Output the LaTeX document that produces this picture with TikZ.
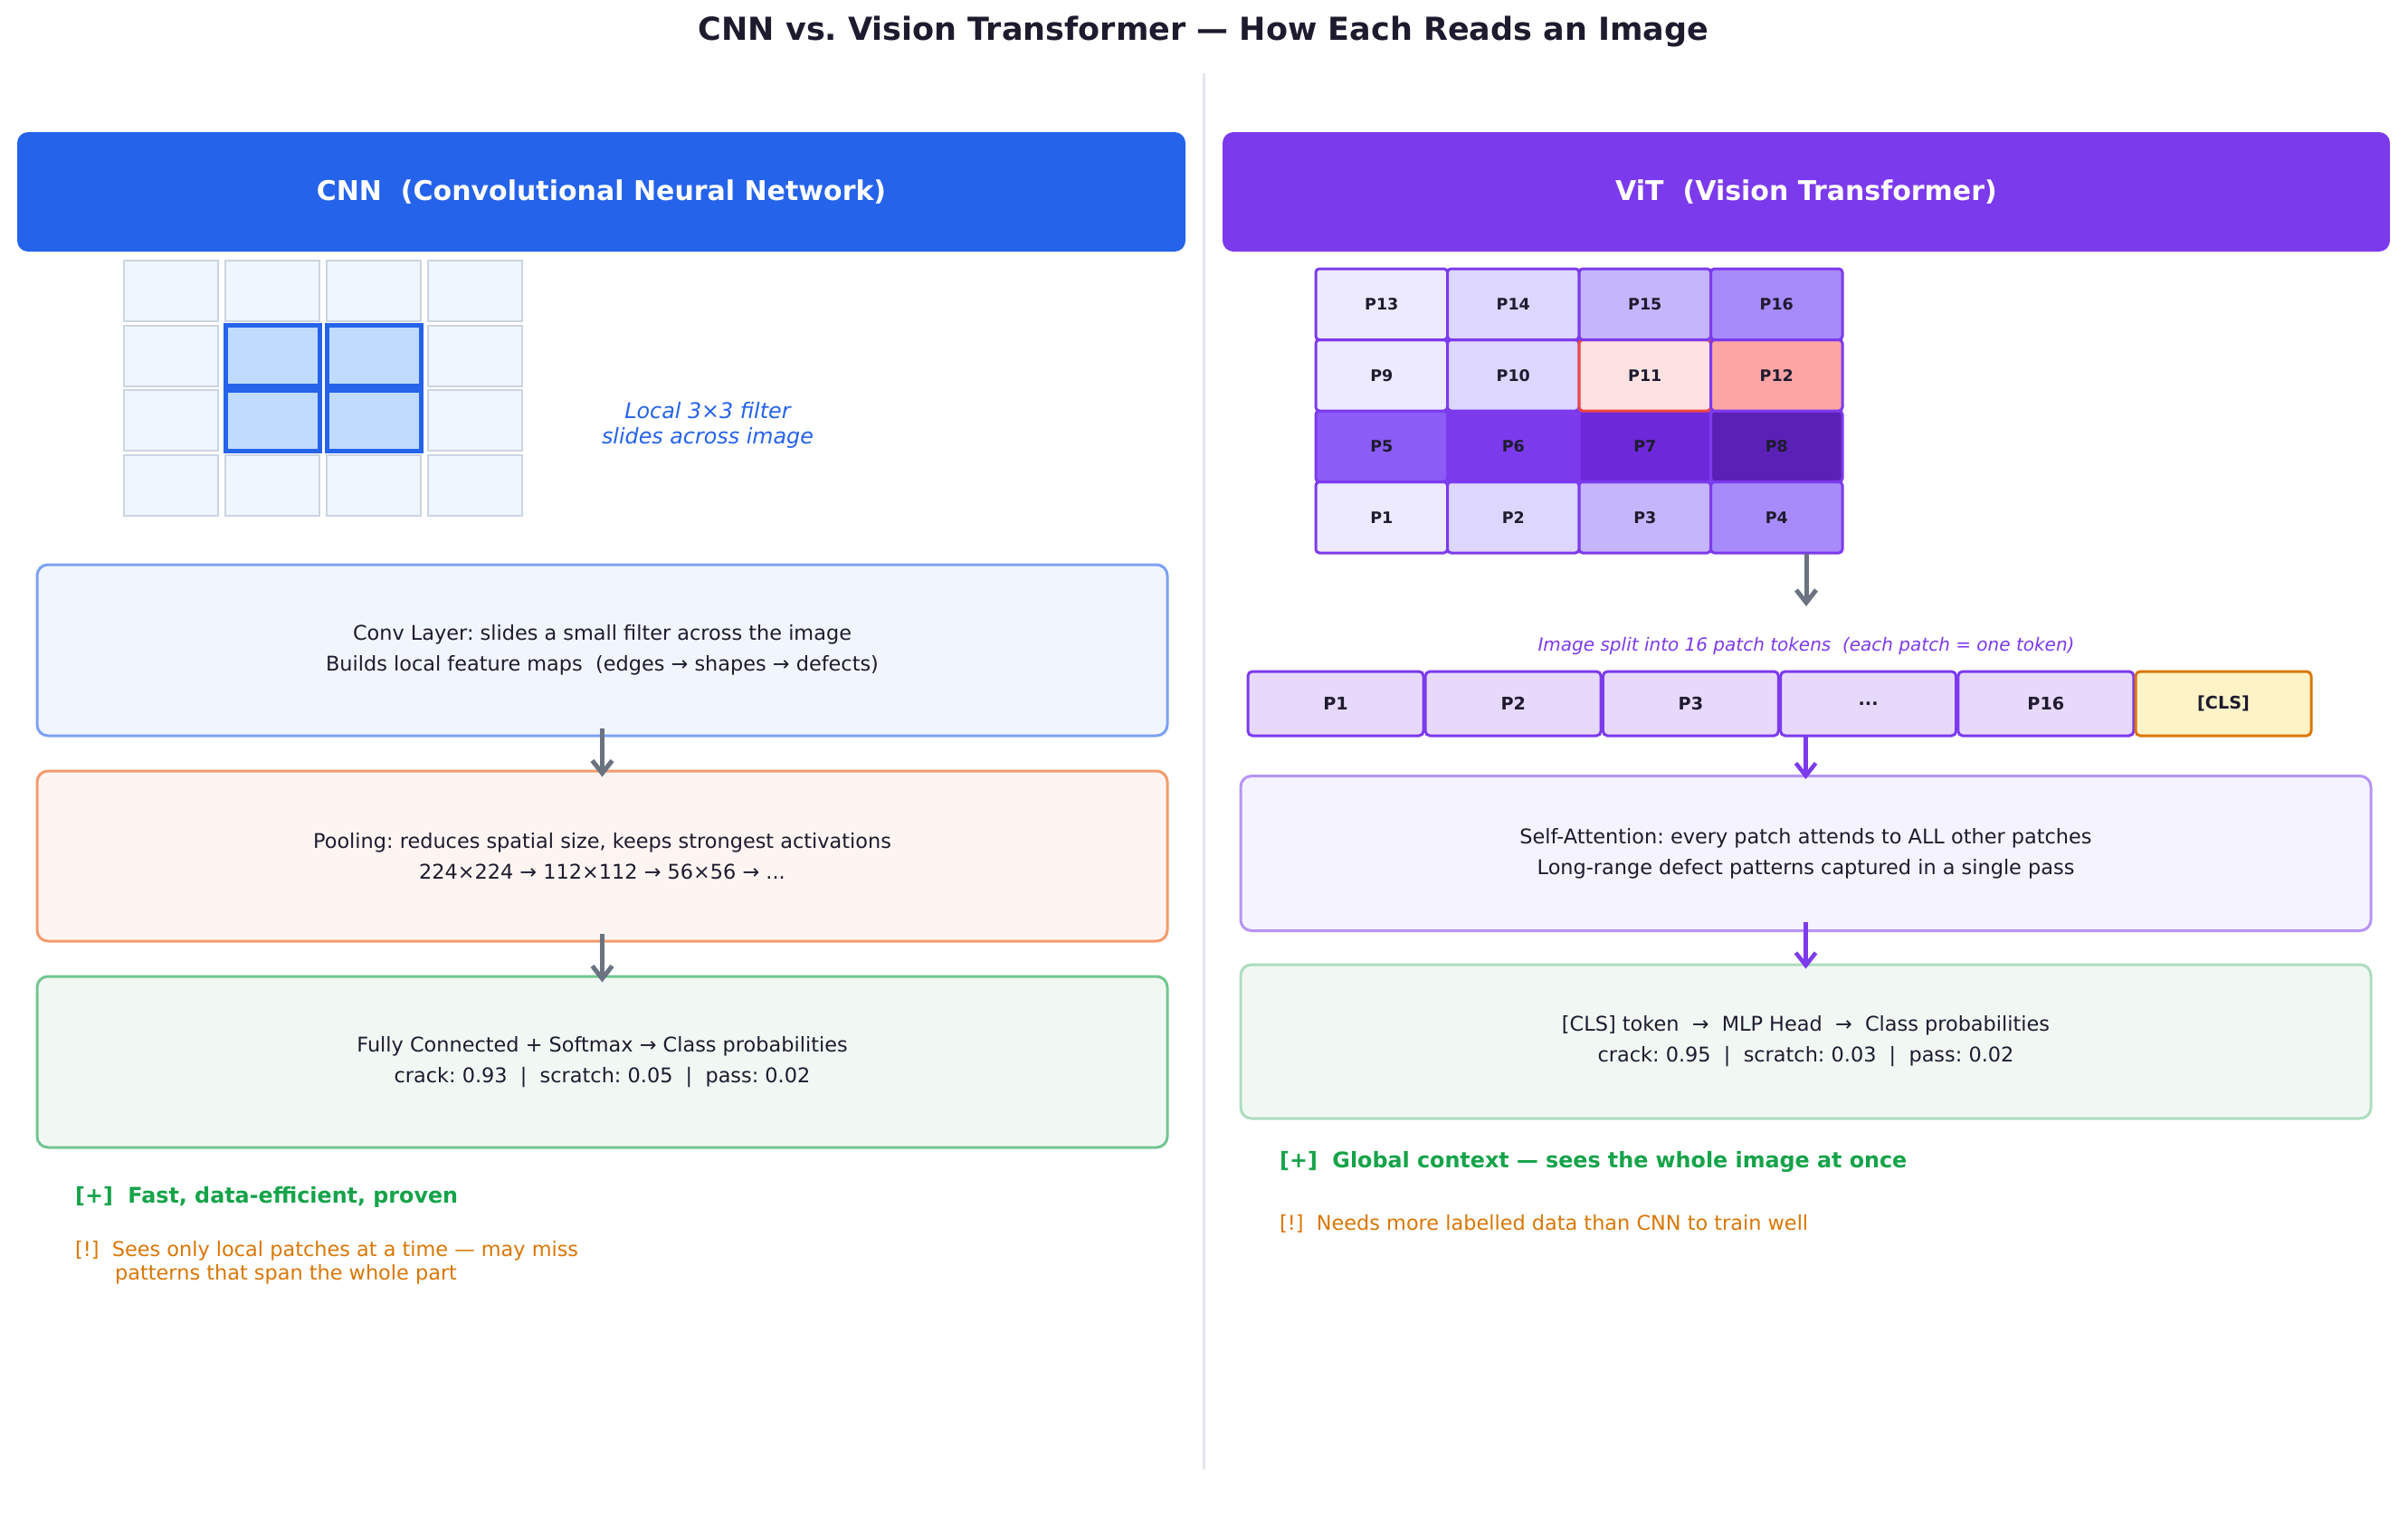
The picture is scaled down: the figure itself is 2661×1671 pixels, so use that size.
\documentclass[tikz,border=0pt]{standalone}
\usepackage{fontspec}
\setmainfont{DejaVu Sans}
\usetikzlibrary{arrows.meta}
\frenchspacing
\definecolor{ink}{HTML}{1E1B2E}
\definecolor{cnnblue}{HTML}{2563EB}
\definecolor{vitpurple}{HTML}{7C3AED}
\definecolor{cellfill}{HTML}{EFF6FF}
\definecolor{cellborder}{HTML}{CBD5E1}
\definecolor{hlfill}{HTML}{BFDBFE}
\definecolor{arrgray}{HTML}{6B7280}
\definecolor{divgray}{HTML}{E5E7EB}
\definecolor{convfill}{HTML}{F1F5FE}
\definecolor{convdraw}{HTML}{7DA1F3}
\definecolor{poolfill}{HTML}{FEF5F2}
\definecolor{pooldraw}{HTML}{F39B6D}
\definecolor{fcfill}{HTML}{F1F8F4}
\definecolor{fcdraw}{HTML}{72C691}
\definecolor{safill}{HTML}{F5F3FF}
\definecolor{sadraw}{HTML}{B794F4}
\definecolor{clsfill}{HTML}{F1F8F4}
\definecolor{clsdraw}{HTML}{ADDDBE}
\definecolor{tokfill}{HTML}{E7D9FC}
\definecolor{clstokfill}{HTML}{FEF3C7}
\definecolor{clstokdraw}{HTML}{D97706}
\definecolor{goodgreen}{HTML}{16A34A}
\definecolor{warnorange}{HTML}{D97706}
\definecolor{pa}{HTML}{EDE9FE}
\definecolor{pb}{HTML}{DDD6FE}
\definecolor{pc}{HTML}{C4B5FD}
\definecolor{pd}{HTML}{A78BFA}
\definecolor{pfive}{HTML}{8B5CF6}
\definecolor{psix}{HTML}{7C3AED}
\definecolor{pseven}{HTML}{6D28D9}
\definecolor{peight}{HTML}{5B21B6}
\definecolor{pelevenfill}{HTML}{FEE2E2}
\definecolor{pelevendraw}{HTML}{EF4444}
\definecolor{ptwelve}{HTML}{FCA5A5}
\begin{document}
\begin{tikzpicture}[x=1pt,y=-1pt,
  hdr/.style={rounded corners=12pt, minimum height=132pt, inner sep=0pt, text=white,
    font=\fontsize{30}{36}\selectfont\bfseries},
  gcell/.style={draw=cellborder, fill=cellfill, line width=2pt, minimum width=104pt, minimum height=67pt, inner sep=0pt},
  hcell/.style={gcell, draw=cnnblue, fill=hlfill, line width=5pt},
  flowbox/.style={rounded corners=12pt, line width=3pt, minimum width=1249pt, inner sep=0pt,
    align=center, text=ink, font=\fontsize{22.4}{34}\selectfont},
  patch/.style={draw=vitpurple, line width=3pt, rounded corners=4pt, minimum width=145.5pt, minimum height=78.5pt,
    inner sep=0pt, font=\fontsize{17.5}{20}\selectfont\bfseries, text=ink},
  token/.style={draw=vitpurple, fill=tokfill, line width=3pt, rounded corners=5pt, minimum width=194pt,
    minimum height=71pt, inner sep=0pt, font=\fontsize{19.2}{22}\selectfont\bfseries, text=ink},
  garrow/.style={draw=arrgray, line width=5pt, -{Straight Barb[length=14pt,width=22pt]}},
  parrow/.style={draw=vitpurple, line width=4.5pt, -{Straight Barb[length=14pt,width=22pt]}},
  note/.style={anchor=west, inner sep=0pt, align=left}
]
\useasboundingbox (0,0) rectangle (2661,1671);
\fill[white] (0,0) rectangle (2661,1671);

% title
\node[text=ink, font=\fontsize{35}{42}\selectfont\bfseries] (title) at (1330,35)
  {CNN vs. Vision Transformer — How Each Reads an Image};

% divider
\coordinate (divtop) at (1330,81);
\coordinate (divbot) at (1330,1624);
\draw[divgray, line width=3pt] (divtop) -- (divbot);

% headers
\node[hdr, fill=cnnblue, minimum width=1291pt] (cnnhdr) at (664.5,212) {CNN\ \ (Convolutional Neural Network)};
\node[hdr, fill=vitpurple, minimum width=1290pt] (vithdr) at (1996,212) {ViT\ \ (Vision Transformer)};

% CNN grid
\foreach \c/\x in {0/189,1/301,2/413,3/525}{
  \foreach \r/\y in {0/321.5,1/393.2,2/464.9,3/536.6}{
    \node[gcell] (g\c\r) at (\x,\y) {};
  }
}
\node[hcell] (h11) at (301,393.2) {};
\node[hcell] (h21) at (413,393.2) {};
\node[hcell] (h12) at (301,464.9) {};
\node[hcell] (h22) at (413,464.9) {};
\node[text=cnnblue, align=center, font=\fontsize{23.8}{28}\selectfont\itshape] (filtxt) at (782,470)
  {Local 3×3 filter\\slides across image};

% CNN flow boxes
\node[flowbox, draw=convdraw, fill=convfill, minimum height=189pt] (conv) at (665.5,718.5)
  {Conv Layer: slides a small filter across the image\\Builds local feature maps\ \ (edges → shapes → defects)};
\node[flowbox, draw=pooldraw, fill=poolfill, minimum height=188pt] (pool) at (665.5,946)
  {Pooling: reduces spatial size, keeps strongest activations\\224×224 → 112×112 → 56×56 → ...};
\node[flowbox, draw=fcdraw, fill=fcfill, minimum height=189pt] (fc) at (665.5,1173.5)
  {Fully Connected + Softmax → Class probabilities\\crack: 0.93\ \ |\ \ scratch: 0.05\ \ |\ \ pass: 0.02};
\draw[garrow] ([yshift=10pt]conv.south) -- ([yshift=-8pt]pool.north);
\draw[garrow] ([yshift=10pt]pool.south) -- ([yshift=-8pt]fc.north);

% CNN notes
\node[note, text=goodgreen, font=\fontsize{23.8}{28}\selectfont\bfseries] (cnnpro) at (83,1323)
  {[+]\ \ Fast, data-efficient, proven};
\node[note, text=warnorange, font=\fontsize{22.4}{26}\selectfont] (cnncon) at (83,1395)
  {[!]\ \ Sees only local patches at a time — may miss\\\hspace*{44pt}patterns that span the whole part};

% ViT patch grid (drawn P1..P16)
\node[patch, fill=pa] (p1) at (1526.75,571.75) {P1};
\node[patch, fill=pb] (p2) at (1672.25,571.75) {P2};
\node[patch, fill=pc] (p3) at (1817.75,571.75) {P3};
\node[patch, fill=pd] (p4) at (1963.25,571.75) {P4};
\node[patch, fill=pfive] (p5) at (1526.75,493.25) {P5};
\node[patch, fill=psix] (p6) at (1672.25,493.25) {P6};
\node[patch, fill=pseven] (p7) at (1817.75,493.25) {P7};
\node[patch, fill=peight] (p8) at (1963.25,493.25) {P8};
\node[patch, fill=pa] (p9) at (1526.75,414.75) {P9};
\node[patch, fill=pb] (p10) at (1672.25,414.75) {P10};
\node[patch, fill=pelevenfill, draw=pelevendraw] (p11) at (1817.75,414.75) {P11};
\node[patch, fill=ptwelve] (p12) at (1963.25,414.75) {P12};
\node[patch, fill=pa] (p13) at (1526.75,336.25) {P13};
\node[patch, fill=pb] (p14) at (1672.25,336.25) {P14};
\node[patch, fill=pc] (p15) at (1817.75,336.25) {P15};
\node[patch, fill=pd] (p16) at (1963.25,336.25) {P16};

\coordinate (gridout) at (1996,612);
\coordinate (capin) at (1996,670);
\draw[garrow] (gridout) -- (capin);

\node[text=vitpurple, font=\fontsize{20}{24}\selectfont\itshape] (cap) at (1996,714)
  {Image split into 16 patch tokens\ \ (each patch = one token)};

% tokens
\node[token] (t1) at (1476,777.5) {P1};
\node[token] (t2) at (1672.2,777.5) {P2};
\node[token] (t3) at (1868.4,777.5) {P3};
\node[token] (t4) at (2064.6,777.5) {...};
\node[token] (t5) at (2260.8,777.5) {P16};
\node[token, fill=clstokfill, draw=clstokdraw] (t6) at (2457,777.5) {[CLS]};

% ViT flow boxes
\node[flowbox, draw=sadraw, fill=safill, minimum height=171pt] (sa) at (1995.5,943)
  {Self-Attention: every patch attends to ALL other patches\\Long-range defect patterns captured in a single pass};
\node[flowbox, draw=clsdraw, fill=clsfill, minimum height=170pt] (cls) at (1995.5,1151)
  {[CLS] token\ \ →\ \ MLP Head\ \ →\ \ Class probabilities\\crack: 0.95\ \ |\ \ scratch: 0.03\ \ |\ \ pass: 0.02};
\draw[parrow] ([yshift=3pt]t4.south -| sa.north) -- ([yshift=-5pt]sa.north);
\draw[parrow] ([yshift=11pt]sa.south) -- ([yshift=-6pt]cls.north);

% ViT notes
\node[note, text=goodgreen, font=\fontsize{23.8}{28}\selectfont\bfseries] (vitpro) at (1414,1284)
  {[+]\ \ Global context — sees the whole image at once};
\node[note, text=warnorange, font=\fontsize{22.4}{26}\selectfont] (vitcon) at (1414,1352)
  {[!]\ \ Needs more labelled data than CNN to train well};
\end{tikzpicture}
\end{document}
